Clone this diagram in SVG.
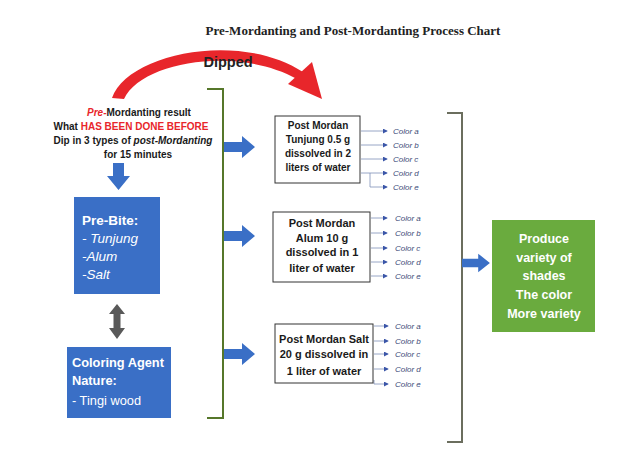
<svg xmlns="http://www.w3.org/2000/svg" width="622" height="476" viewBox="0 0 622 476">
<defs>
<style>
.tb{font-family:"Liberation Sans",Arial,sans-serif;font-weight:bold;font-size:10px;fill:#1a1a1a;text-anchor:middle;}
.b2{font-size:11px;}
.w{font-family:"Liberation Sans",Arial,sans-serif;font-size:13.5px;fill:#fff;}
.w2{font-size:12.8px;}
.gw{font-family:"Liberation Sans",Arial,sans-serif;font-weight:bold;font-size:12.5px;fill:#fff;text-anchor:middle;}
.col{font-family:"Liberation Sans",Arial,sans-serif;font-style:italic;font-size:8px;fill:#3c4a78;}
.red{fill:#e8262b;}
.box{fill:#fff;stroke:#333;stroke-width:1;}
.blue{fill:#3a6fc6;}
.cl{stroke:#7f8fb8;stroke-width:0.8;fill:none;marker-end:url(#ah);}
.br{fill:none;stroke-width:2;}
</style>
<marker id="ah" viewBox="0 0 6 6" refX="5" refY="3" markerWidth="5" markerHeight="5" orient="auto" markerUnits="userSpaceOnUse">
<path d="M0,0 L6,3 L0,6 Z" fill="#3a55a8"/>
</marker>
<path id="rarr" d="M0,-5 H18 V-11 L31,0 L18,11 V5 H0 Z"/>
</defs>
<rect width="622" height="476" fill="#fff"/>

<text x="353" y="35" text-anchor="middle" font-family="Liberation Serif,serif" font-weight="bold" font-size="13" fill="#222">Pre-Mordanting and Post-Mordanting Process Chart</text>

<g id="dipped">
<path class="red" d="M112,98 C127,54 238,30 303,72 L297,79 C238,46 142,61 124,99 Z"/>
<path class="red" d="M288,84 L312,62 L322,99 Z"/>
<text x="228" y="67" text-anchor="middle" font-family="'Liberation Sans',Arial,sans-serif" font-weight="bold" font-size="14.5" fill="#222">Dipped</text>
</g>

<g id="premordant-text">
<text class="tb" x="139" y="116"><tspan fill="#e8262b" font-style="italic">Pre-</tspan>Mordanting result</text>
<text class="tb" x="131" y="130">What <tspan fill="#e8262b">HAS BEEN DONE BEFORE</tspan></text>
<text class="tb" x="133" y="144">Dip in 3 types of <tspan font-style="italic">post-Mordanting</tspan></text>
<text class="tb" x="138" y="158">for 15 minutes</text>
</g>

<g id="connectors">
<path class="blue" d="M113,163 H124 V176 H130 L118.5,190 L107,176 H113 Z"/>
<path fill="#595959" d="M117,304 L125,314 H120.5 V328 H125 L117,339 L109,328 H113.5 V314 H109 Z"/>
<path class="br" stroke="#56772a" d="M207,89 H223 V418 H207"/>
<path class="br" stroke="#6b6e5e" d="M447,113 H462 V442 H447"/>
<use href="#rarr" class="blue" x="224" y="147"/>
<use href="#rarr" class="blue" x="224" y="236"/>
<use href="#rarr" class="blue" x="224" y="354"/>
<use href="#rarr" class="blue" x="462" y="263" transform="translate(462 263) scale(0.9 0.85) translate(-462 -263)"/>

<line class="cl" x1="361" y1="131" x2="387" y2="131"/>
<line class="cl" x1="361" y1="145" x2="387" y2="145"/>
<line class="cl" x1="361" y1="159" x2="387" y2="159"/>
<line class="cl" x1="361" y1="173" x2="387" y2="173"/>
<path class="cl" d="M370,173 V187 H387"/>

<line class="cl" x1="371" y1="218" x2="387" y2="218"/>
<line class="cl" x1="371" y1="233" x2="387" y2="233"/>
<line class="cl" x1="371" y1="248" x2="387" y2="248"/>
<line class="cl" x1="371" y1="262" x2="387" y2="262"/>
<line class="cl" x1="371" y1="276" x2="387" y2="276"/>

<line class="cl" x1="374" y1="326" x2="388" y2="326"/>
<line class="cl" x1="374" y1="341" x2="388" y2="341"/>
<line class="cl" x1="374" y1="354" x2="388" y2="354"/>
<line class="cl" x1="374" y1="369" x2="388" y2="369"/>
<path class="cl" d="M374,380 V384 H388"/>
</g>

<g id="prebite">
<rect class="blue" x="74" y="197" width="86" height="97"/>
<text class="w" x="82" y="225" font-weight="bold">Pre-Bite:</text>
<text class="w" x="82" y="243" font-style="italic">- Tunjung</text>
<text class="w" x="82" y="261" font-style="italic">-Alum</text>
<text class="w" x="82" y="279" font-style="italic">-Salt</text>
</g>

<g id="coloring-agent">
<rect class="blue" x="67" y="347" width="104" height="71"/>
<text class="w w2" x="72" y="367" font-weight="bold">Coloring Agent</text>
<text class="w w2" x="72" y="385" font-weight="bold">Nature:</text>
<text class="w w2" x="72" y="405">- Tingi wood</text>
</g>

<g id="post-tunjung">
<rect class="box" x="275" y="116" width="85" height="67"/>
<text class="tb" x="318" y="129">Post Mordan</text>
<text class="tb" x="318" y="143">Tunjung 0.5 g</text>
<text class="tb" x="318" y="157">dissolved in 2</text>
<text class="tb" x="318" y="171">liters of water</text>
<text class="col" x="393" y="134">Color a</text>
<text class="col" x="393" y="148">Color b</text>
<text class="col" x="393" y="162">Color c</text>
<text class="col" x="393" y="176">Color d</text>
<text class="col" x="393" y="190">Color e</text>
</g>

<g id="post-alum">
<rect class="box" x="273" y="212" width="97" height="70"/>
<text class="tb b2" x="322" y="227">Post Mordan</text>
<text class="tb b2" x="322" y="242">Alum 10 g</text>
<text class="tb b2" x="322" y="256">dissolved in 1</text>
<text class="tb b2" x="322" y="272">liter of water</text>
<text class="col" x="395" y="221">Color a</text>
<text class="col" x="395" y="236">Color b</text>
<text class="col" x="395" y="251">Color c</text>
<text class="col" x="395" y="265">Color d</text>
<text class="col" x="395" y="279">Color e</text>
</g>

<g id="post-salt">
<rect class="box" x="275" y="324" width="98" height="59"/>
<text class="tb b2" x="324" y="343">Post Mordan Salt</text>
<text class="tb b2" x="324" y="358">20 g dissolved in</text>
<text class="tb b2" x="324" y="375">1 liter of water</text>
<text class="col" x="395" y="329">Color a</text>
<text class="col" x="395" y="344">Color b</text>
<text class="col" x="395" y="357">Color c</text>
<text class="col" x="395" y="372">Color d</text>
<text class="col" x="395" y="387">Color e</text>
</g>

<g id="result">
<rect x="492" y="220" width="103" height="112" fill="#6aab3e"/>
<text class="gw" x="544" y="243">Produce</text>
<text class="gw" x="544" y="262">variety of</text>
<text class="gw" x="544" y="280">shades</text>
<text class="gw" x="544" y="299">The color</text>
<text class="gw" x="544" y="318">More variety</text>
</g>
</svg>
